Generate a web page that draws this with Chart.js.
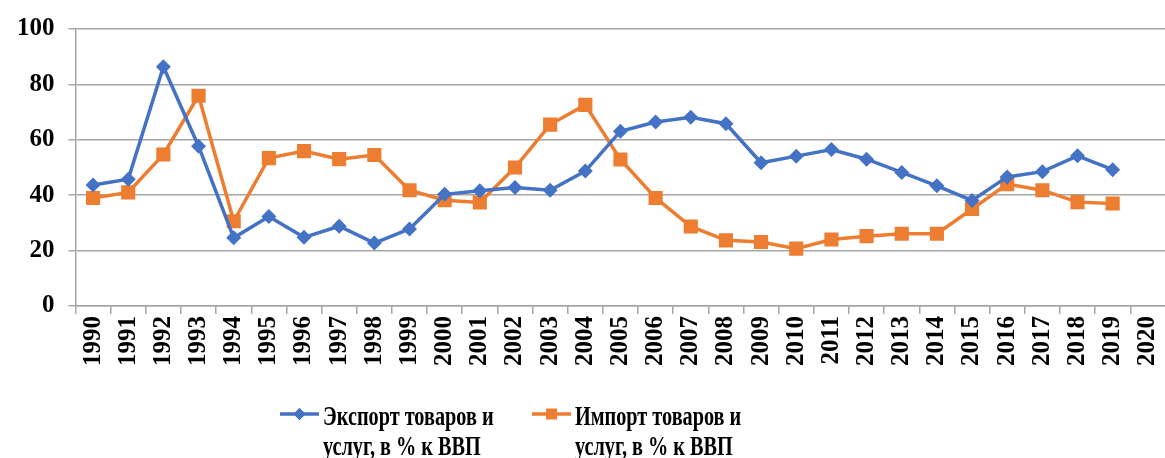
<!DOCTYPE html>
<html>
<head>
<meta charset="utf-8">
<script src="https://cdn.jsdelivr.net/npm/chart.js@4/dist/chart.umd.min.js"></script>
<style>
  html, body { margin: 0; padding: 0; background: #fff; overflow: hidden; }
  #wrap { width: 1180px; height: 458px; }
</style>
</head>
<body>
<div id="wrap"><canvas id="chart"></canvas></div>
<script>
const years = ['1990', '1991', '1992', '1993', '1994', '1995', '1996', '1997', '1998', '1999',
               '2000', '2001', '2002', '2003', '2004', '2005', '2006', '2007', '2008', '2009',
               '2010', '2011', '2012', '2013', '2014', '2015', '2016', '2017', '2018', '2019', '2020'];

// export of goods and services, % of GDP
const exportShare = [43.7, 45.8, 86.4, 57.7, 24.6, 32.3, 24.8, 28.8, 22.7, 27.8,
                     40.3, 41.6, 42.8, 41.8, 48.7, 63.1, 66.4, 68.1, 65.8, 51.7,
                     54.1, 56.5, 53.0, 48.2, 43.4, 38.1, 46.6, 48.5, 54.2, 49.2];

// import of goods and services, % of GDP
const importShare = [39.0, 41.0, 54.7, 75.9, 30.6, 53.4, 55.9, 53.0, 54.5, 41.8,
                     38.2, 37.4, 50.0, 65.5, 72.6, 52.9, 39.0, 28.7, 23.7, 23.1,
                     20.7, 24.0, 25.2, 26.1, 26.1, 35.0, 44.0, 41.8, 37.5, 37.0];

const seriesNames = [
    ['Экспорт товаров и', 'услуг, в % к ВВП'],
    ['Импорт товаров и', 'услуг, в % к ВВП']
];

const yTicks = [0, 20, 40, 60, 80, 100];

const BLUE = '#4472C4';
const ORANGE = '#ED7D31';
const GRID = '#a6a6a6';
const SERIF = '"Liberation Serif", "Times New Roman", serif';

// two-line legend under the plot, text squeezed a little like Word's Times
const bottomLegend = {
    id: 'bottomLegend',
    afterDraw(chart) {
        const ctx = chart.ctx;
        const lineY = 414;
        const starts = [280, 532];
        chart.data.datasets.forEach((ds, i) => {
            const x0 = starts[i];
            ctx.save();
            ctx.strokeStyle = ds.borderColor;
            ctx.lineWidth = 3.5;
            ctx.beginPath();
            ctx.moveTo(x0, lineY);
            ctx.lineTo(x0 + 39, lineY);
            ctx.stroke();
            ctx.fillStyle = ds.borderColor;
            Chart.helpers.drawPoint(ctx, {
                pointStyle: ds.pointStyle,
                radius: ds.pointStyle === 'rect' ? 7.5 : 6,
                borderWidth: 0
            }, x0 + 19.5, lineY);
            ctx.fill();
            ctx.restore();

            ctx.save();
            ctx.fillStyle = '#000';
            ctx.font = 'bold 27px ' + SERIF;
            ctx.textBaseline = 'alphabetic';
            ctx.translate(x0 + 43, 0);
            ctx.scale(0.75, 1);
            ctx.fillText(seriesNames[i][0], 0, 425);
            ctx.fillText(seriesNames[i][1], 0, 455);
            ctx.restore();
        });
    }
};

const ctx = document.getElementById('chart').getContext('2d');
const tradeChart = new Chart(ctx, {
    type: 'line',
    data: {
        labels: years,
        datasets: [{
            label: seriesNames[0].join(' '),
            data: exportShare,
            borderColor: BLUE,
            backgroundColor: BLUE,
            borderWidth: 3.5,
            pointStyle: 'rectRot',
            pointRadius: 7.5,
            pointBorderWidth: 0,
            tension: 0
        }, {
            label: seriesNames[1].join(' '),
            data: importShare,
            borderColor: ORANGE,
            backgroundColor: ORANGE,
            borderWidth: 3.5,
            pointStyle: 'rect',
            pointRadius: 10,
            pointBorderWidth: 0,
            tension: 0
        }]
    },
    options: {
        responsive: true,
        maintainAspectRatio: false,
        animation: false,
        layout: { padding: { left: 3, top: 10, right: 9, bottom: 90 } },
        plugins: {
            legend: { display: false },
            tooltip: { enabled: false }
        },
        scales: {
            x: {
                offset: true,
                grid: {
                    offset: true,
                    drawOnChartArea: false,
                    drawTicks: true,
                    tickLength: 8,
                    color: GRID,
                    lineWidth: 1.5
                },
                border: { color: GRID, width: 1.5 },
                ticks: {
                    autoSkip: false,
                    minRotation: 90,
                    maxRotation: 90,
                    padding: 2,
                    color: '#000',
                    font: { family: SERIF, size: 25, weight: 'bold' }
                }
            },
            y: {
                min: 0,
                max: 100,
                afterBuildTicks(scale) {
                    scale.ticks = yTicks.map(v => ({ value: v }));
                },
                grid: { color: GRID, lineWidth: 1.5, tickLength: 7 },
                border: { color: GRID, width: 1.5 },
                ticks: {
                    padding: 14,
                    color: '#000',
                    font: { family: SERIF, size: 25, weight: 'bold' }
                }
            }
        }
    },
    plugins: [bottomLegend]
});
</script>
</body>
</html>
